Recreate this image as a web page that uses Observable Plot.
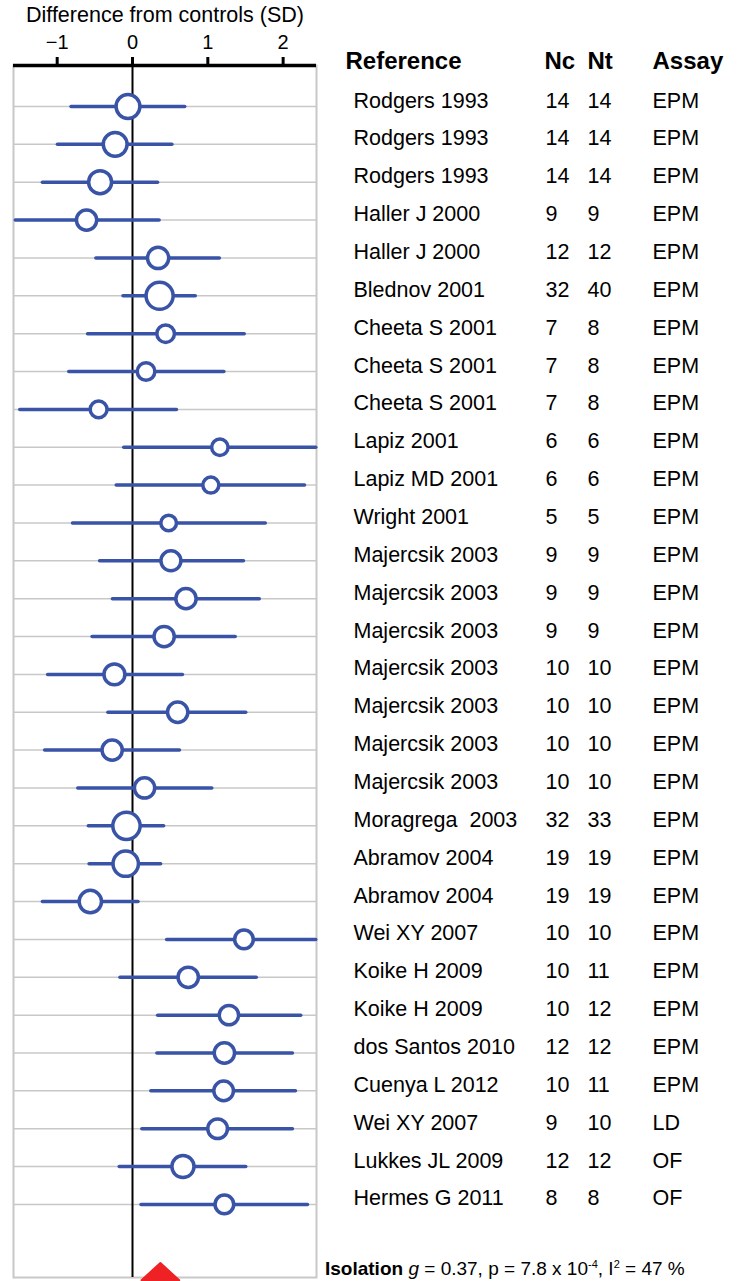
<!DOCTYPE html>
<html>
<head>
<meta charset="utf-8">
<script src="https://cdn.jsdelivr.net/npm/d3@7"></script>
<script src="https://cdn.jsdelivr.net/npm/@observablehq/plot@0.6"></script>
<style>
  html, body { margin: 0; padding: 0; background: #fff; }
  #chart svg { display: block; }
  #chart g[aria-label="x-axis label"] text { font-size: 21.5px; }
</style>
</head>
<body>
<div id="chart"></div>
<script>
// Forest plot: standardized difference from controls (Hedges' g, 95% CI) per study
const references = [
  "Rodgers 1993", "Rodgers 1993", "Rodgers 1993", "Haller J 2000", "Haller J 2000",
  "Blednov 2001", "Cheeta S 2001", "Cheeta S 2001", "Cheeta S 2001", "Lapiz 2001",
  "Lapiz MD 2001", "Wright 2001", "Majercsik 2003", "Majercsik 2003", "Majercsik 2003",
  "Majercsik 2003", "Majercsik 2003", "Majercsik 2003", "Majercsik 2003", "Moragrega\u00a0 2003",
  "Abramov 2004", "Abramov 2004", "Wei XY 2007", "Koike H 2009", "Koike H 2009",
  "dos Santos 2010", "Cuenya L 2012", "Wei XY 2007", "Lukkes JL 2009", "Hermes G 2011"
];
const nControl = [14, 14, 14, 9, 12, 32, 7, 7, 7, 6, 6, 5, 9, 9, 9, 10, 10, 10, 10, 32, 19, 19, 10, 10, 10, 12, 10, 9, 12, 8];
const nTreated = [14, 14, 14, 9, 12, 40, 8, 8, 8, 6, 6, 5, 9, 9, 9, 10, 10, 10, 10, 33, 19, 19, 10, 11, 12, 12, 11, 10, 12, 8];
const assays = [
  "EPM", "EPM", "EPM", "EPM", "EPM", "EPM", "EPM", "EPM", "EPM", "EPM",
  "EPM", "EPM", "EPM", "EPM", "EPM", "EPM", "EPM", "EPM", "EPM", "EPM",
  "EPM", "EPM", "EPM", "EPM", "EPM", "EPM", "EPM", "LD", "OF", "OF"
];
const effect = [-0.06, -0.23, -0.43, -0.61, 0.34, 0.36, 0.44, 0.18, -0.45, 1.16,
  1.04, 0.48, 0.51, 0.71, 0.42, -0.24, 0.60, -0.27, 0.16, -0.08,
  -0.09, -0.56, 1.48, 0.74, 1.28, 1.22, 1.21, 1.13, 0.67, 1.22];
const ciLow = [-0.81, -0.99, -1.19, -1.55, -0.48, -0.12, -0.59, -0.84, -1.49, -0.11,
  -0.21, -0.79, -0.43, -0.26, -0.53, -1.12, -0.32, -1.16, -0.72, -0.58,
  -0.57, -1.19, 0.46, -0.16, 0.34, 0.33, 0.25, 0.13, -0.17, 0.12];
const ciHigh = [0.70, 0.53, 0.34, 0.36, 1.16, 0.84, 1.49, 1.22, 0.59, 2.44,
  2.29, 1.77, 1.48, 1.69, 1.37, 0.67, 1.51, 0.63, 1.06, 0.42,
  0.38, 0.08, 2.44, 1.65, 2.24, 2.13, 2.17, 2.13, 1.51, 2.33];
// relative study weight (%)
const weight = [4.4, 4.4, 4.1, 3.2, 3.5, 5.7, 2.4, 2.4, 2.2, 2.1,
  2.0, 1.9, 3.1, 3.2, 3.2, 3.4, 3.2, 3.2, 3.2, 5.8,
  5.0, 3.9, 2.7, 3.2, 2.9, 3.2, 3.0, 3.0, 3.8, 2.7];

// pooled estimate
const pooledLabel = "Isolation";
const pooledG = 0.37;
const pooledLow = 0.12;
const pooledHigh = 0.62;
const pooledP = "7.8 x 10";
const pooledPExp = "-4";
const pooledI2 = 47;

const xTicks = [-1, 0, 1, 2];
const headers = ["Reference", "Nc", "Nt", "Assay"];

const rows = references.map((ref, i) => ({
  i, ref, nc: nControl[i], nt: nTreated[i], assay: assays[i],
  g: effect[i], lo: ciLow[i], hi: ciHigh[i], w: weight[i]
}));

const headerRow = -1;
const summaryRow = rows.length + 1;
const diamondHalfHeight = 0.45;
const diamond = [
  {x: pooledLow, y: summaryRow},
  {x: pooledG, y: summaryRow - diamondHalfHeight},
  {x: pooledHigh, y: summaryRow},
  {x: pooledG, y: summaryRow + diamondHalfHeight},
  {x: pooledLow, y: summaryRow}
];

const yDomain = [-1.083, 30.93];
const blue = "#3953a6";
const gray = "#c8c8c8";
const font = "'Liberation Sans', Arial, Helvetica, sans-serif";

const colText = (field, dx) => Plot.text(rows, {
  y: "i", text: field, frameAnchor: "right", dx, dy: 1,
  textAnchor: "start", lineAnchor: "bottom", fontSize: 21.5, fill: "black"
});
const headText = (label, dx) => Plot.text([label], {
  y: () => headerRow, text: d => d, frameAnchor: "right", dx, dy: 0,
  textAnchor: "start", lineAnchor: "bottom", fontSize: 24, fontWeight: "bold", fill: "black"
});

const chart = Plot.plot({
  width: 740,
  height: 1281,
  marginTop: 65,
  marginBottom: 4,
  marginLeft: 13,
  marginRight: 424,
  style: {fontFamily: font, fontSize: "20px", background: "#fff", color: "#000"},
  x: {domain: [-1.58, 2.443]},
  y: {domain: yDomain, reverse: true, axis: null},
  r: {type: "sqrt", domain: [0, 5.8], range: [0, 13.65]},
  marks: [
    Plot.ruleY(rows, {y: "i", stroke: gray, strokeWidth: 1.5}),
    Plot.frame({stroke: gray, strokeWidth: 2}),
    Plot.ruleX([0], {stroke: "#000", strokeWidth: 2}),
    Plot.ruleY([yDomain[0]], {stroke: "#000", strokeWidth: 3.5}),
    Plot.axisX({
      anchor: "top", ticks: xTicks, tickSize: 9, tickPadding: 8,
      strokeWidth: 3, fontSize: 20, tickFormat: d => d < 0 ? `\u2212${-d}` : `${d}`,
      label: "Difference from controls (SD)", labelAnchor: "center", labelArrow: "none",
      labelOffset: 59
    }),
    Plot.ruleY(rows, {y: "i", x1: "lo", x2: "hi", stroke: blue, strokeWidth: 3.5, strokeLinecap: "round"}),
    Plot.dot(rows, {x: "g", y: "i", r: "w", fill: "#fff", stroke: blue, strokeWidth: 3.5}),
    Plot.line(diamond, {x: "x", y: "y", fill: "#ee2124", stroke: "#ee2124", strokeWidth: 2, strokeLinejoin: "round"}),
    headText(headers[0], 29),
    headText(headers[1], 228),
    headText(headers[2], 271),
    headText(headers[3], 336),
    colText("ref", 37),
    colText("nc", 229),
    colText("nt", 271),
    colText("assay", 336)
  ]
});

// pooled-effect summary line with bold, italic and superscript runs
const xs = chart.scale("x");
const ys = chart.scale("y");
const foot = d3.select(chart).append("text")
  .attr("x", xs.range[1] + 9)
  .attr("y", ys.apply(summaryRow) - 5)
  .attr("text-anchor", "start")
  .attr("font-family", font)
  .attr("font-size", 19)
  .attr("fill", "#000");
foot.append("tspan").attr("font-weight", "bold").text(pooledLabel);
foot.append("tspan").text(" ");
foot.append("tspan").attr("font-style", "italic").text("g");
foot.append("tspan").text(` = ${pooledG}, p = ${pooledP}`);
foot.append("tspan").attr("font-size", 11).attr("dy", -7).text(pooledPExp);
foot.append("tspan").attr("dy", 7).text(", I");
foot.append("tspan").attr("font-size", 11).attr("dy", -7).text("2");
foot.append("tspan").attr("dy", 7).text(` = ${pooledI2} %`);

document.getElementById("chart").appendChild(chart);
</script>
</body>
</html>
